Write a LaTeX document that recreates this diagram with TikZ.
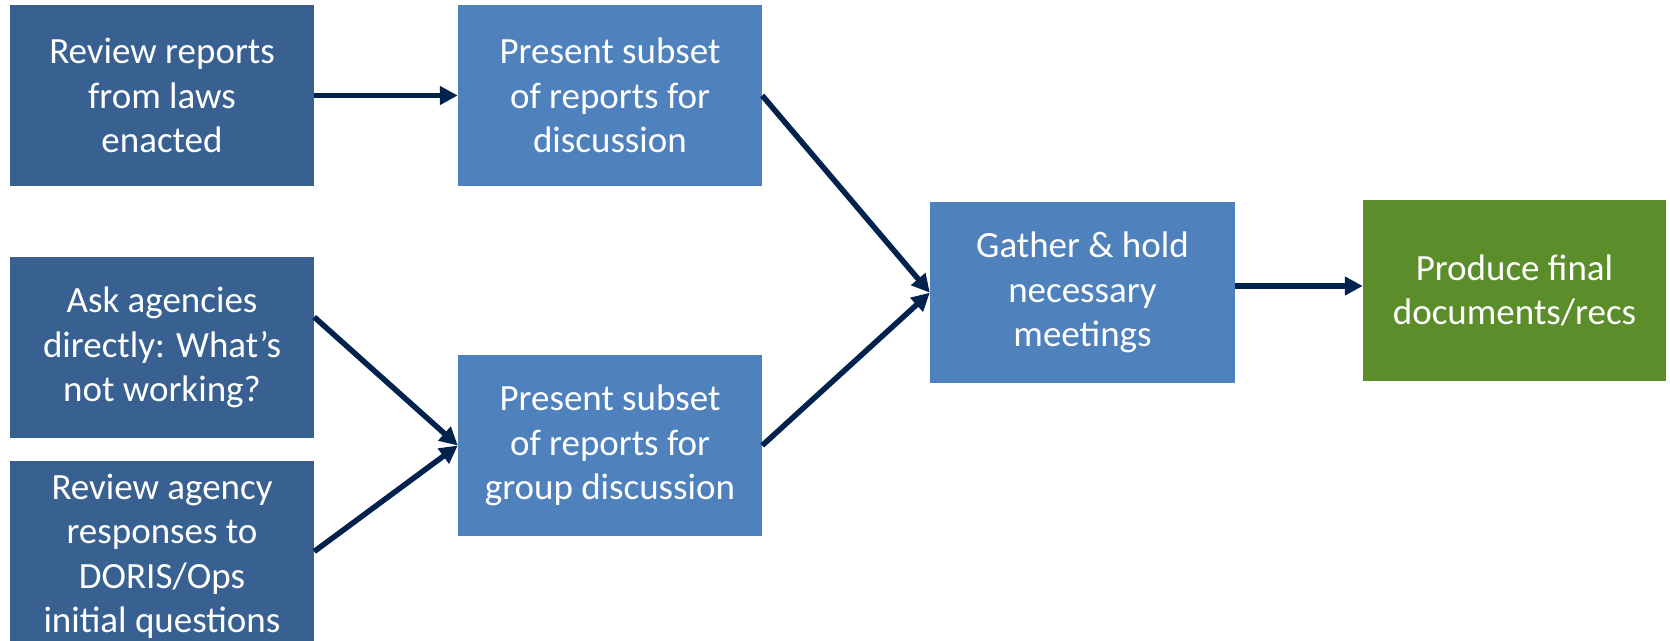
\documentclass[tikz,border=0pt]{standalone}
\usepackage{fontspec}
\setmainfont{Carlito}
\usetikzlibrary{arrows.meta}
\definecolor{darkbox}{RGB}{56,97,146}
\definecolor{lightbox}{RGB}{79,129,189}
\definecolor{greenbox}{RGB}{91,141,42}
\definecolor{arrowc}{RGB}{0,34,77}
\tikzset{
  box/.style={rectangle, inner sep=0pt, minimum width=304pt, minimum height=181pt,
    text=white, align=center, font=\fontsize{37pt}{44.5pt}\selectfont},
  darkb/.style={box, fill=darkbox},
  lightb/.style={box, fill=lightbox},
  greenb/.style={box, fill=greenbox},
  conn/.style={draw=arrowc, line width=5.5pt, -{Triangle[length=18pt,width=18pt]}}
}
\begin{document}
\begin{tikzpicture}[x=1pt,y=1pt]
\useasboundingbox (0,0) rectangle (1670,-640);
\node[darkb] (A) at (162,-95.5) {Review reports\\from laws\\enacted};
\node[darkb] (B) at (162,-347.5) {Ask agencies\\directly: What’s\\not working?};
\node[darkb, minimum height=190pt] (C) at (162,-556) {Review agency\\responses to\\DORIS/Ops\\initial questions};
\node[lightb] (D) at (610,-95.5) {Present subset\\of reports for\\discussion};
\node[lightb] (G) at (610,-445.5) {Present subset\\of reports for\\group discussion};
\node[lightb, minimum width=305pt, minimum height=180.5pt] (E) at (1082.5,-292.7) {Gather \& hold\\necessary\\meetings};
\node[greenb, minimum width=303pt] (F) at (1514.5,-290.5) {Produce final\\documents/recs};
\coordinate (Bout) at ([yshift=30.5pt]B.east);
\coordinate (Cout) at ([yshift=4.5pt]C.east);
\coordinate (Eout) at ([yshift=6.7pt]E.east);
\draw[conn] (A.east) -- (D.west);
\draw[conn] (Bout) -- (G.west);
\draw[conn] (Cout) -- (G.west);
\draw[conn] (D.east) -- (E.west);
\draw[conn] (G.east) -- (E.west);
\draw[conn] (Eout) -- (F.west |- Eout);
\end{tikzpicture}
\end{document}
